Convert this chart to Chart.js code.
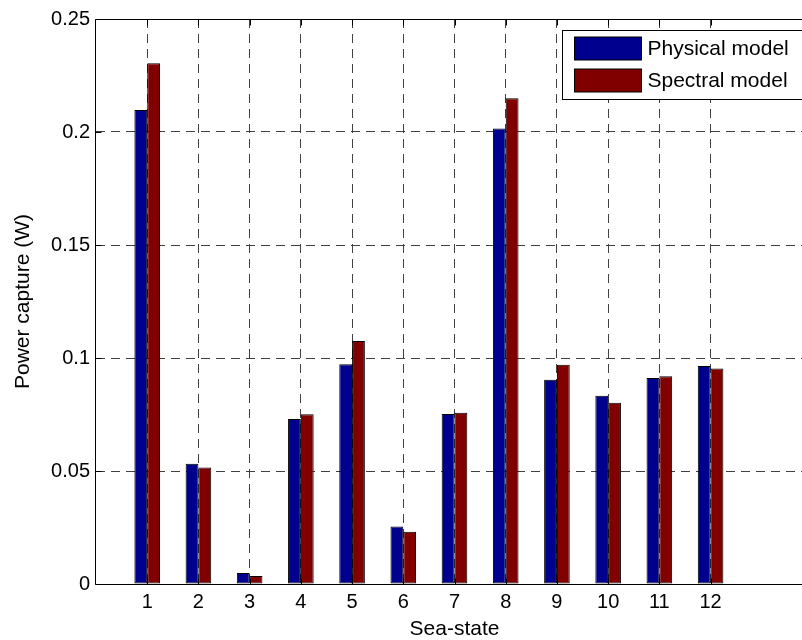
<!DOCTYPE html>
<html>
<head>
<meta charset="utf-8">
<script src="https://cdn.jsdelivr.net/npm/chart.js@4.4.1/dist/chart.umd.min.js"></script>
<style>
  html, body { margin: 0; padding: 0; background: #fff; overflow: hidden; }
  #wrap { width: 802px; height: 640px; overflow: hidden; }
  canvas { display: block; }
</style>
</head>
<body>
<div id="wrap"><canvas id="c" width="830" height="640"></canvas></div>
<script>
// Power capture per sea-state for the two models
const seaStates = [1, 2, 3, 4, 5, 6, 7, 8, 9, 10, 11, 12];
const physicalModel = [0.2097, 0.0532, 0.0049, 0.0730, 0.0972, 0.0254, 0.0752, 0.2016, 0.0904, 0.0833, 0.0912, 0.0965];
const spectralModel = [0.2304, 0.0516, 0.0035, 0.0751, 0.1075, 0.0231, 0.0758, 0.2149, 0.0970, 0.0802, 0.0919, 0.0954];
const seriesNames = ['Physical model', 'Spectral model'];
const seriesColors = ['#00008f', '#800000'];

const xTickLabels = ['1', '2', '3', '4', '5', '6', '7', '8', '9', '10', '11', '12'];
const yTicks = [0, 0.05, 0.1, 0.15, 0.2, 0.25];
const yTickLabels = ['0', '0.05', '0.1', '0.15', '0.2', '0.25'];

const FONT = '"Liberation Sans", Arial, Helvetica, sans-serif';
Chart.defaults.font.family = FONT;
Chart.defaults.font.size = 20;
Chart.defaults.color = '#000';

const GRID_COLOR = '#404040';
const GRID_DASH = [9, 6];

// Axes box with inward tick marks, drawn over the bars
const framePlugin = {
  id: 'frame',
  afterDatasetsDraw(chart) {
    const { ctx, chartArea: a, scales } = chart;
    const L = Math.round(a.left) - 0.5, R = Math.round(a.right) - 0.5;
    const T = Math.round(a.top) + 0.5, B = Math.round(a.bottom) + 0.5;
    const tl = 6;
    ctx.save();
    ctx.strokeStyle = '#000';
    ctx.lineWidth = 1;
    ctx.setLineDash([]);
    ctx.beginPath();
    ctx.rect(L, T, R - L, B - T);
    scales.x.ticks.forEach(t => {
      const x = Math.round(scales.x.getPixelForValue(t.value)) + 0.5;
      ctx.moveTo(x, B); ctx.lineTo(x, B - tl);
      ctx.moveTo(x, T); ctx.lineTo(x, T + tl);
    });
    scales.y.ticks.forEach(t => {
      const y = Math.round(scales.y.getPixelForValue(t.value)) + 0.5;
      ctx.moveTo(L, y); ctx.lineTo(L + tl, y);
      ctx.moveTo(R, y); ctx.lineTo(R - tl, y);
    });
    ctx.stroke();
    ctx.restore();
  }
};

// Boxed legend in the upper right corner of the plot area
const boxLegendPlugin = {
  id: 'boxLegend',
  afterDraw(chart) {
    const { ctx, chartArea: a } = chart;
    const left = Math.round(a.right - 251) + 0.5;
    const top = Math.round(a.top + 11) + 0.5;
    const right = Math.round(a.right - 10) + 0.5;
    const bottom = Math.round(a.top + 80) + 0.5;
    ctx.save();
    ctx.fillStyle = '#fff';
    ctx.fillRect(left, top, right - left, bottom - top);
    ctx.strokeStyle = '#000';
    ctx.lineWidth = 1;
    ctx.strokeRect(left, top, right - left, bottom - top);
    ctx.font = '21px ' + FONT;
    ctx.textBaseline = 'middle';
    ctx.textAlign = 'left';
    chart.data.datasets.forEach((ds, i) => {
      const cy = top + 18 + i * 31.6;
      const sx = left + 12, sw = 67, sh = 23;
      ctx.fillStyle = ds.backgroundColor;
      ctx.fillRect(sx, Math.round(cy - sh / 2), sw, sh);
      ctx.strokeStyle = '#000';
      ctx.strokeRect(sx, Math.round(cy - sh / 2), sw, sh);
      ctx.fillStyle = '#000';
      ctx.fillText(ds.label, left + 85, cy + 1);
    });
    ctx.restore();
  }
};

const datasets = [physicalModel, spectralModel].map((vals, i) => ({
  label: seriesNames[i],
  data: seaStates.map((s, k) => ({ x: s, y: vals[k] })),
  backgroundColor: seriesColors[i],
  borderColor: '#000',
  borderWidth: 1,
  borderSkipped: false,
  categoryPercentage: 0.5,
  barPercentage: 1.0
}));

new Chart(document.getElementById('c'), {
  type: 'bar',
  data: { datasets },
  options: {
    responsive: false,
    animation: false,
    devicePixelRatio: 1,
    layout: { padding: { left: 0, top: 19, right: 17, bottom: 0 } },
    plugins: {
      legend: { display: false },
      tooltip: { enabled: false }
    },
    scales: {
      x: {
        type: 'linear',
        min: 0,
        max: 14,
        offset: false,
        afterBuildTicks(s) { s.ticks = seaStates.map(v => ({ value: v })); },
        afterFit(s) { s.height = 56; },
        ticks: {
          autoSkip: false,
          maxRotation: 0,
          padding: 6,
          callback: (v) => xTickLabels[seaStates.indexOf(v)]
        },
        grid: { color: GRID_COLOR, lineWidth: 1, drawTicks: false, offset: false },
        border: { display: false, dash: GRID_DASH },
        title: {
          display: true,
          text: 'Sea-state',
          font: { size: 21, lineHeight: 1 },
          padding: { top: 0, bottom: 0 }
        }
      },
      y: {
        type: 'linear',
        min: 0,
        max: 0.25,
        afterBuildTicks(s) { s.ticks = yTicks.map(v => ({ value: v })); },
        afterFit(s) { s.width = 96; },
        ticks: {
          padding: 6,
          callback: (v) => yTickLabels[yTicks.indexOf(v)]
        },
        grid: { color: GRID_COLOR, lineWidth: 1, drawTicks: false },
        border: { display: false, dash: GRID_DASH },
        title: {
          display: true,
          text: 'Power capture (W)',
          font: { size: 21, lineHeight: 1.2 },
          padding: { top: 11, bottom: 0 }
        }
      }
    }
  },
  plugins: [framePlugin, boxLegendPlugin]
});
</script>
</body>
</html>
